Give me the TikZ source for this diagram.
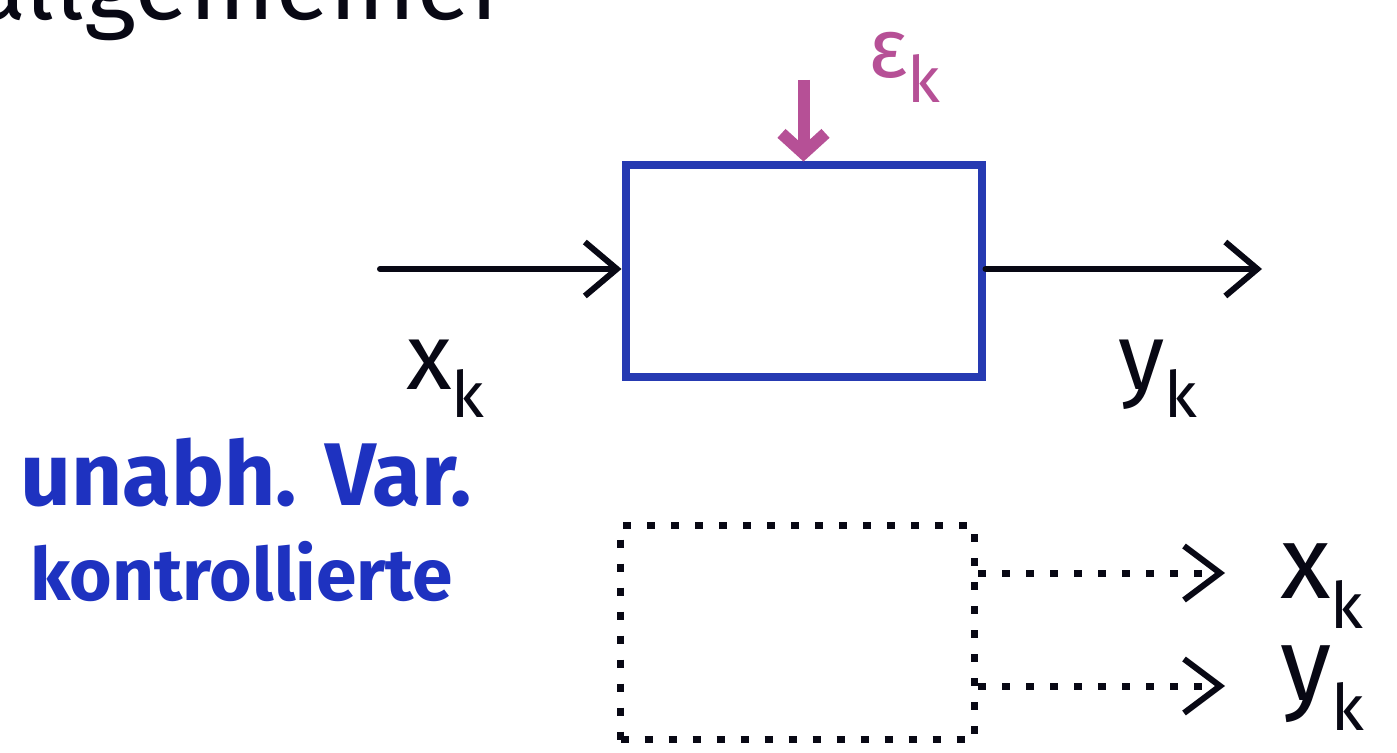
\documentclass[tikz,border=0pt]{standalone}
\usepackage{fontspec}
\setmainfont{Fira Sans}
\usetikzlibrary{arrows.meta}
\definecolor{inkblue}{RGB}{38,58,178}
\definecolor{inkpink}{RGB}{182,80,150}
\definecolor{textblue}{RGB}{30,50,192}
\definecolor{ink}{RGB}{8,8,20}
% lowered index letter for the signal labels
\newcommand\lowidx[1]{\raisebox{-0.55ex}{\fontsize{32}{32}\selectfont #1}}
\begin{document}
\begin{tikzpicture}[x=0.5pt,y=-0.5pt,
  sysbox/.style={draw=inkblue, line width=4pt, minimum width=178pt, minimum height=106pt, inner sep=0pt},
  ctlbox/.style={draw=ink, line width=3.5pt, dash pattern=on 4pt off 8pt, minimum width=177pt, minimum height=107pt, inner sep=0pt},
  sig/.style={draw=ink, line width=3pt, line cap=round, -{Straight Barb[length=16pt,width=27pt]}},
  noise/.style={draw=inkpink, line width=6pt, -{Straight Barb[length=10pt,width=22pt]}},
  dotsig/.style={draw=ink, line width=3.5pt, dash pattern=on 4pt off 8pt, -{Straight Barb[length=18pt,width=27pt,line width=3pt]}},
  lbl/.style={text=ink, inner sep=0pt, anchor=base west, font=\fontsize{47}{47}\selectfont},
  note/.style={text=textblue, inner sep=0pt, anchor=base west, font=\fontsize{41}{41}\selectfont\bfseries}
]
\useasboundingbox (0,0) rectangle (1397,753);
\clip (0,0) rectangle (1397,753);
\fill[white] (0,0) rectangle (1397,753);

% heading, running off the top edge
\node[lbl, font=\fontsize{50}{50}\selectfont] (head) at (-28,20) {allgemeiner};

% system block with input, output and disturbance
\node[sysbox] (sys) at (803.5,271.5) {};
\coordinate (inStart) at (380,269);
\coordinate (outEnd) at (1262,269);
\coordinate (epsTop) at (803.5,80);
\draw[sig] (inStart) -- (sys.west |- inStart);
\draw[sig] (sys.east |- outEnd) -- (outEnd);
\draw[noise] (epsTop) -- (sys.north);
\node[lbl, text=inkpink, font=\fontsize{42}{42}\selectfont] (eps) at (868,78) {ε\lowidx{k}};
\node[lbl] (xin) at (406,390) {x\lowidx{k}};
\node[lbl] (yout) at (1118,390) {y\lowidx{k}};

% notes on the left
\node[note, font=\fontsize{44.5}{44.5}\selectfont\bfseries] (n1) at (20,505) {unabh. Var.};
\node[note, font=\fontsize{36.5}{36.5}\selectfont\bfseries] (n2) at (30,600) {kontrollierte};

% controlled block: both signals are outputs
\node[ctlbox] (ctl) at (797.5,632.5) {};
\coordinate (xTip) at (1225,573);
\coordinate (yTip) at (1225,686);
\draw[dotsig] (ctl.east |- xTip) -- (xTip);
\draw[dotsig] (ctl.east |- yTip) -- (yTip);
\node[lbl, font=\fontsize{52}{52}\selectfont] (xr) at (1280,598) {x\lowidx{k}};
\node[lbl, font=\fontsize{52}{52}\selectfont] (yr) at (1280,700) {y\lowidx{k}};
\end{tikzpicture}
\end{document}
